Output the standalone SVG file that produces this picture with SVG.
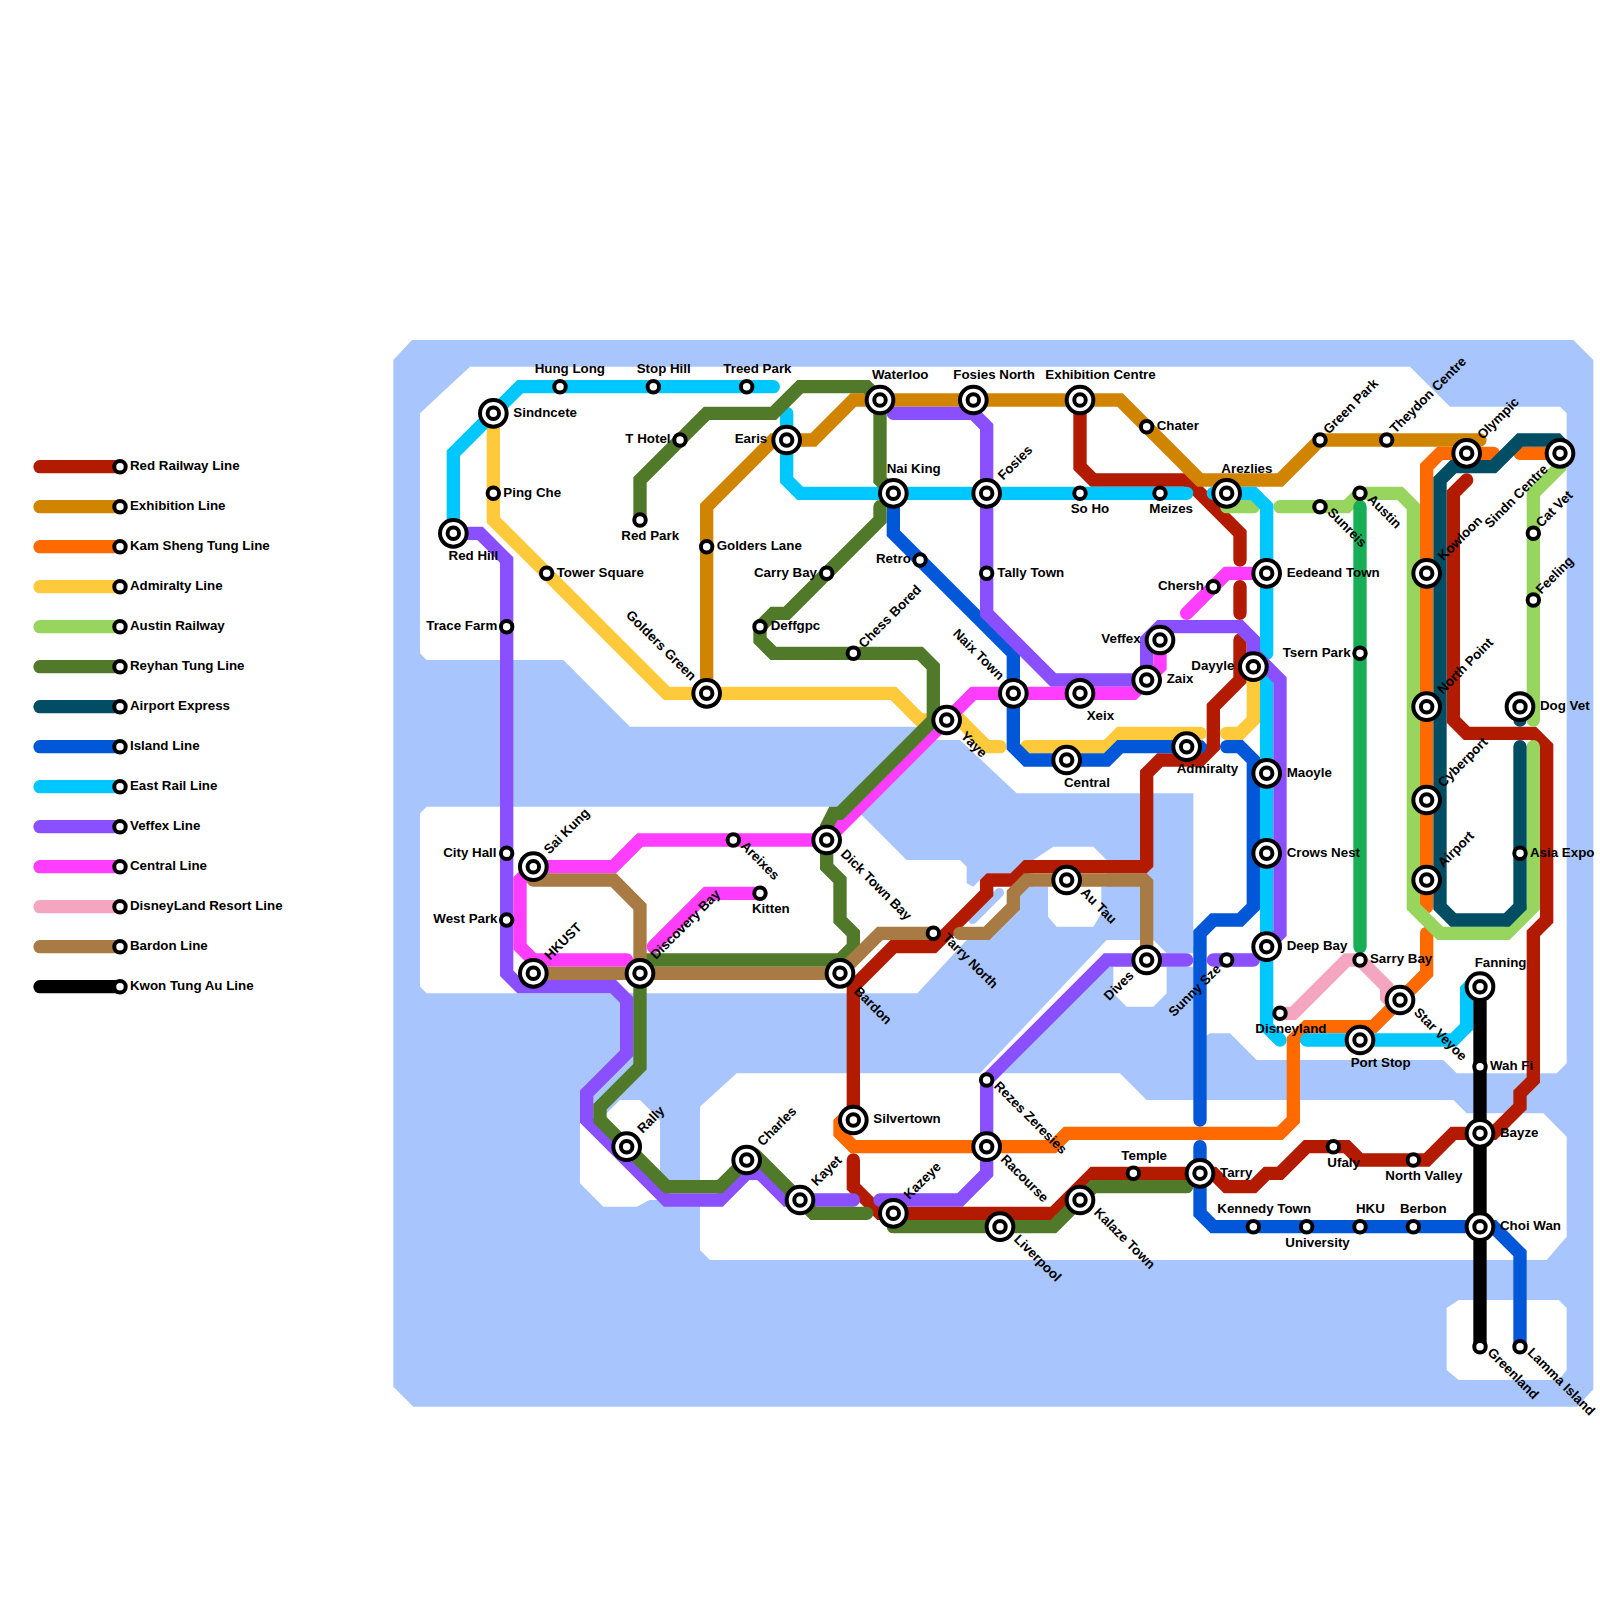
<svg xmlns="http://www.w3.org/2000/svg" width="1600" height="1600" viewBox="0 0 1600 1600">
<style>
.l{fill:none;stroke-width:1;stroke-linecap:round;stroke-linejoin:miter;stroke-miterlimit:1.3}
.red{stroke:#B31B00}.exh{stroke:#D18400}.kam{stroke:#FF6A00}.adm{stroke:#FFC93C}.aus{stroke:#97D55E}.rey{stroke:#507A29}.air{stroke:#004D64}.isl{stroke:#0057D8}.eas{stroke:#00C8FF}.vef{stroke:#8A50FF}.cen{stroke:#FF3DFF}.dis{stroke:#F4A6C0}.bar{stroke:#A87A44}.kwo{stroke:#000}.grn{stroke:#17AE55}
text{font-family:"Liberation Sans",Arial,sans-serif;font-weight:700;font-size:1px;fill:#000}
.e{text-anchor:end}
.o{fill:#fff;stroke:#000;stroke-width:.3}
.land{fill:#fff}
</style>
<defs>
<circle id="s" class="o" r=".43"/>
<g id="b"><circle class="o" r="1"/><circle class="o" r=".43"/></g>
</defs>
<rect width="1600" height="1600" fill="#fff"/>
<g transform="scale(13.33333)">
<g id="water">
<path fill="#A8C6FD" d="M29.5 27L30.9 25.5H118L119.5 27V104.2L118.3 105.5H31L29.5 104Z"/>
<path class="land" d="M35.25 27.5H105.75L108.75 30.5H117L117.5 31V79.75L116.75 80.5H109.25L108.25 79.5H94.25L92.25 77.5H90.75L90 78V71H89.5V59.5H76.25L72 55.5H70L69 54.5H47.25L42.25 49.5H32L31.5 49V31Z"/>
<path class="land" d="M31.5 61L32 60.5H62.5L64.5 61L68 64.5H72L72.5 65V66.25L73 66.5L74 65.5H76V68L74 70.5H72.5L68.8 74.5H32L31.5 74Z"/>
<path class="land" d="M77.5 64.5L79 63.5H82L83 64.5V66.5H82.6V68.5L82 69.5H79.25L78.6 68.75V66.5H77.5Z"/>
<path class="land" d="M73.5 80.5L83 70.5H86.5L87.5 71.5H89.5V72.5H87.5V74.5L86.5 75.5H84.5L83.5 74.5V72.5H82.5L75 80.5Z"/>
<path class="land" d="M55.25 80.5H84L86 82.5H109L110 83.5H115.75L117.5 85.25V92.75L116 94.5H53.25L52.5 93.75V90H48.7L47.75 90.5H45.25L43.5 88.75V84L45.5 83.5L46.5 82.5H48L49.5 84V88.5H52.5V83Z"/>
<path class="land" d="M109.4 97.5H116.9L117.5 98.1V102.75L116.9 103.5H109.4L108.5 102.75V98.1Z"/>
<path d="M72.95 68.95L74.95 66.95" fill="none" stroke="#A8C6FD" stroke-width=".7" stroke-linecap="round"/>
</g>
<g id="connectors">
<path class="l red" d="M110 36L109 37V54L110 55H115L116 56V69L115 70V81L114 82V83L112 85H109L107 87H102L101 86H98L96 88H95L94 89H92L91 88L90 88H82L79 91H67M64 87V89L66 91H67M64 84V74L67 71H70L74 67V66H76L77 65H86V58L87 57H90L91 56V53L93 51V48M93 46V44M93 42V40L89 36H82L81 35V30"/>
<path class="l exh" d="M53 52V38L58 33H61L64 30H84L90 36H96L99 33H111"/>
<path class="l kam" d="M114 34H117M112 34H108L107 35V68M107 70V73L103 77H98L97 78V84L96 85H80L79 86H64L63 85V84H64"/>
<path class="l adm" d="M37 31V39L50 52H67L69 54H72L74 56H75M77 56H83L84 55H90M92 55H93L94 54V50"/>
<path class="l aus" d="M92 38H94M96 38H101L102 37H105L106 38V68L108 70H113L115 68V56M115 54V37L117 35V34"/>
<path class="l grn" d="M102 38V71"/>
<path class="l air" d="M117 34V33H114L112 35H109L108 36V68L109 69H113L114 68V56M114 54V53"/>
<path class="l isl" d="M67 37V40L76 49V56L77 57H83L84 56H90M92 56H93L94 57V68L93 69H91L90 70V84M90 86V91L91 92H112L114 94V101"/>
<path class="l eas" d="M58 29H39L34 34V40M59 31V36L60 37H89M91 37H94L95 38V49M95 51V77L96 78M98 78H109L110 77V74H111"/>
<path class="l vef" d="M34 40H36L38 42V73L39 74H46L47 75V79L44 82V84L50 90H54L56 88H57L59 90H64M66 90H72L74 88V81L83 72H89M91 72H94M95 71L96 70V51L94 49V48L93 47H87L86 48V51H79L74 46V32L73 31H67"/>
<path class="l cen" d="M57 67H53L49 71M40 65H46L48 63H62L73 52H85L87 50V48M40 65L39 66V71L40 72H47M89 46L92 43H95"/>
<path class="l rey" d="M48 39V36L53 31H58L60 29H65L66 30V36L67 37M66 38V39L59 46H58L57 47V48L58 49H69L70 50V54L63 61H62.5L62 62V65L63 66V69L64 70V71L63 72H48V80L45 83V84L50 89H54L56 87M56.6 86.6L60 90L61 91H65M67 92H79L82 89H89"/>
<path class="l dis" d="M96 76H97L101 72H102L104 74V75H105"/>
<path class="l bar" d="M40 73H63L66 70H70M72 70H74L76 68V67L77 66H86V72M40 66H46L48 68V73"/>
<path class="l kwo" d="M111 74V101"/>
</g>
<g id="legend">
<g id="legend-red"><path class="l red" d="M3 35H9"/><use href="#s" x="9" y="35"/><text x="9.75" y="35.22">Red Railway Line</text></g>
<g id="legend-exhibition"><path class="l exh" d="M3 38H9"/><use href="#s" x="9" y="38"/><text x="9.75" y="38.22">Exhibition Line</text></g>
<g id="legend-kam"><path class="l kam" d="M3 41H9"/><use href="#s" x="9" y="41"/><text x="9.75" y="41.22">Kam Sheng Tung Line</text></g>
<g id="legend-admiralty"><path class="l adm" d="M3 44H9"/><use href="#s" x="9" y="44"/><text x="9.75" y="44.22">Admiralty Line</text></g>
<g id="legend-austin"><path class="l aus" d="M3 47H9"/><use href="#s" x="9" y="47"/><text x="9.75" y="47.22">Austin Railway</text></g>
<g id="legend-reyhan"><path class="l rey" d="M3 50H9"/><use href="#s" x="9" y="50"/><text x="9.75" y="50.22">Reyhan Tung Line</text></g>
<g id="legend-airport"><path class="l air" d="M3 53H9"/><use href="#s" x="9" y="53"/><text x="9.75" y="53.22">Airport Express</text></g>
<g id="legend-island"><path class="l isl" d="M3 56H9"/><use href="#s" x="9" y="56"/><text x="9.75" y="56.22">Island Line</text></g>
<g id="legend-east"><path class="l eas" d="M3 59H9"/><use href="#s" x="9" y="59"/><text x="9.75" y="59.22">East Rail Line</text></g>
<g id="legend-veffex"><path class="l vef" d="M3 62H9"/><use href="#s" x="9" y="62"/><text x="9.75" y="62.22">Veffex Line</text></g>
<g id="legend-central"><path class="l cen" d="M3 65H9"/><use href="#s" x="9" y="65"/><text x="9.75" y="65.22">Central Line</text></g>
<g id="legend-disney"><path class="l dis" d="M3 68H9"/><use href="#s" x="9" y="68"/><text x="9.75" y="68.22">DisneyLand Resort Line</text></g>
<g id="legend-bardon"><path class="l bar" d="M3 71H9"/><use href="#s" x="9" y="71"/><text x="9.75" y="71.22">Bardon Line</text></g>
<g id="legend-kwon"><path class="l kwo" d="M3 74H9"/><use href="#s" x="9" y="74"/><text x="9.75" y="74.22">Kwon Tung Au Line</text></g>
</g>
<g id="stations">
<g id="n-hung-long"><use href="#s" x="42" y="29"/><text x="40.1" y="28">Hung Long</text></g>
<g id="n-stop-hill"><use href="#s" x="49" y="29"/><text x="47.75" y="28">Stop Hill</text></g>
<g id="n-treed-park"><use href="#s" x="56" y="29"/><text x="54.25" y="28">Treed Park</text></g>
<g id="n-waterloo"><use href="#b" x="66" y="30"/><text x="65.4" y="28.45">Waterloo</text></g>
<g id="n-fosies-north"><use href="#b" x="73" y="30"/><text x="71.5" y="28.45">Fosies North</text></g>
<g id="n-exhibition-centre"><use href="#b" x="81" y="30"/><text x="78.4" y="28.45">Exhibition Centre</text></g>
<g id="n-earis"><use href="#b" x="59" y="33"/><text x="55.1" y="33.25">Earis</text></g>
<g id="n-t-hotel"><use href="#s" x="51" y="33"/><text x="46.9" y="33.25">T Hotel</text></g>
<g id="n-nai-king"><use href="#b" x="67" y="37"/><text x="66.5" y="35.5">Nai King</text></g>
<g id="n-fosies"><use href="#b" x="74" y="37"/><text x="75.25" y="36.05" transform="rotate(-45 75.25 36.05)">Fosies</text></g>
<g id="n-so-ho"><use href="#s" x="81" y="37"/><text x="80.3" y="38.5">So Ho</text></g>
<g id="n-red-park"><use href="#s" x="48" y="39"/><text x="46.6" y="40.5">Red Park</text></g>
<g id="n-golders-lane"><use href="#s" x="53" y="41"/><text x="53.75" y="41.25">Golders Lane</text></g>
<g id="n-tower-square"><use href="#s" x="41" y="43"/><text x="41.75" y="43.25">Tower Square</text></g>
<g id="n-ping-che"><use href="#s" x="37" y="37"/><text x="37.75" y="37.25">Ping Che</text></g>
<g id="n-sindncete"><use href="#b" x="37" y="31"/><text x="38.5" y="31.25">Sindncete</text></g>
<g id="n-red-hill"><use href="#b" x="34" y="40"/><text x="33.64" y="42">Red Hill</text></g>
<g id="n-trace-farm"><use href="#s" x="38" y="47"/><text x="31.97" y="47.25">Trace Farm</text></g>
<g id="n-city-hall"><use href="#s" x="38" y="64"/><text x="33.24" y="64.25">City Hall</text></g>
<g id="n-west-park"><use href="#s" x="38" y="69"/><text x="32.5" y="69.25">West Park</text></g>
<g id="n-retro"><use href="#s" x="69" y="42"/><text x="65.7" y="42.25">Retro</text></g>
<g id="n-tally-town"><use href="#s" x="74" y="43"/><text x="74.8" y="43.25">Tally Town</text></g>
<g id="n-carry-bay"><use href="#s" x="62" y="43"/><text x="56.55" y="43.25">Carry Bay</text></g>
<g id="n-deffgpc"><use href="#s" x="57" y="47"/><text x="57.8" y="47.25">Deffgpc</text></g>
<g id="n-chess-bored"><use href="#s" x="64" y="49"/><text x="64.8" y="48.65" transform="rotate(-45 64.8 48.65)">Chess Bored</text></g>
<g id="n-golders-green"><use href="#b" x="53" y="52"/><text class="e" x="51.8" y="51.1" transform="rotate(45 51.8 51.1)">Golders Green</text></g>
<g id="n-naix-town"><use href="#b" x="76" y="52"/><text class="e" x="74.9" y="51.05" transform="rotate(45 74.9 51.05)">Naix Town</text></g>
<g id="n-xeix"><use href="#b" x="81" y="52"/><text x="81.5" y="54">Xeix</text></g>
<g id="n-yaye"><use href="#b" x="71" y="54"/><text x="72" y="55.25" transform="rotate(45 72 55.25)">Yaye</text></g>
<g id="n-central"><use href="#b" x="80" y="57"/><text x="79.8" y="59">Central</text></g>
<g id="n-admiralty"><use href="#b" x="89" y="56"/><text x="88.25" y="58">Admiralty</text></g>
<g id="n-chater"><use href="#s" x="86" y="32"/><text x="86.75" y="32.25">Chater</text></g>
<g id="n-green-park"><use href="#s" x="99" y="33"/><text x="99.65" y="32.6" transform="rotate(-45 99.65 32.6)">Green Park</text></g>
<g id="n-theydon-centre"><use href="#s" x="104" y="33"/><text x="104.65" y="32.55" transform="rotate(-45 104.65 32.55)">Theydon Centre</text></g>
<g id="n-olympic"><use href="#b" x="110" y="34"/><text x="111.2" y="33" transform="rotate(-45 111.2 33)">Olympic</text></g>
<g id="n-sindn-centre"><use href="#b" x="117" y="34"/><text x="111.75" y="39.65" transform="rotate(-45 111.75 39.65)">Sindn Centre</text></g>
<g id="n-arezlies"><use href="#b" x="92" y="37"/><text x="91.6" y="35.5">Arezlies</text></g>
<g id="n-meizes"><use href="#s" x="87" y="37"/><text x="86.2" y="38.5">Meizes</text></g>
<g id="n-austin"><use href="#s" x="102" y="37"/><text x="102.5" y="37.5" transform="rotate(45 102.5 37.5)">Austin</text></g>
<g id="n-sunreis"><use href="#s" x="99" y="38"/><text x="99.5" y="38.5" transform="rotate(45 99.5 38.5)">Sunreis</text></g>
<g id="n-cat-vet"><use href="#s" x="115" y="40"/><text x="115.6" y="39.6" transform="rotate(-45 115.6 39.6)">Cat Vet</text></g>
<g id="n-feeling"><use href="#s" x="115" y="45"/><text x="115.6" y="44.6" transform="rotate(-45 115.6 44.6)">Feeling</text></g>
<g id="n-eedeand-town"><use href="#b" x="95" y="43"/><text x="96.5" y="43.25">Eedeand Town</text></g>
<g id="n-kowloon"><use href="#b" x="107" y="43"/><text x="108.25" y="42.1" transform="rotate(-45 108.25 42.1)">Kowloon</text></g>
<g id="n-chersh"><use href="#s" x="91" y="44"/><text x="86.85" y="44.25">Chersh</text></g>
<g id="n-veffex"><use href="#b" x="87" y="48"/><text x="82.6" y="48.25">Veffex</text></g>
<g id="n-tsern-park"><use href="#s" x="102" y="49"/><text x="96.2" y="49.25">Tsern Park</text></g>
<g id="n-dayyle"><use href="#b" x="94" y="50"/><text x="89.35" y="50.25">Dayyle</text></g>
<g id="n-zaix"><use href="#b" x="86" y="51"/><text x="87.5" y="51.25">Zaix</text></g>
<g id="n-north-point"><use href="#b" x="107" y="53"/><text x="108.2" y="52.1" transform="rotate(-45 108.2 52.1)">North Point</text></g>
<g id="n-dog-vet"><use href="#b" x="114" y="53"/><text x="115.5" y="53.25">Dog Vet</text></g>
<g id="n-maoyle"><use href="#b" x="95" y="58"/><text x="96.5" y="58.25">Maoyle</text></g>
<g id="n-cyberport"><use href="#b" x="107" y="60"/><text x="108.25" y="59.1" transform="rotate(-45 108.25 59.1)">Cyberport</text></g>
<g id="n-crows-nest"><use href="#b" x="95" y="64"/><text x="96.5" y="64.25">Crows Nest</text></g>
<g id="n-asia-expo"><use href="#s" x="114" y="64"/><text x="114.75" y="64.25">Asia Expo</text></g>
<g id="n-sai-kung"><use href="#b" x="40" y="65"/><text x="41.2" y="64.1" transform="rotate(-45 41.2 64.1)">Sai Kung</text></g>
<g id="n-hkust"><use href="#b" x="40" y="73"/><text x="41.25" y="72.05" transform="rotate(-45 41.25 72.05)">HKUST</text></g>
<g id="n-discovery-bay"><use href="#b" x="48" y="73"/><text x="49.2" y="72" transform="rotate(-45 49.2 72)">Discovery Bay</text></g>
<g id="n-areixes"><use href="#s" x="55" y="63"/><text x="55.5" y="63.5" transform="rotate(45 55.5 63.5)">Areixes</text></g>
<g id="n-dick-town-bay"><use href="#b" x="62" y="63"/><text x="63" y="64.1" transform="rotate(45 63 64.1)">Dick Town Bay</text></g>
<g id="n-kitten"><use href="#s" x="57" y="67"/><text x="56.4" y="68.5">Kitten</text></g>
<g id="n-bardon"><use href="#b" x="63" y="73"/><text x="64" y="74.4" transform="rotate(45 64 74.4)">Bardon</text></g>
<g id="n-tarry-north"><use href="#s" x="70" y="70"/><text x="70.65" y="70.4" transform="rotate(45 70.65 70.4)">Tarry North</text></g>
<g id="n-au-tau"><use href="#b" x="80" y="66"/><text x="81" y="67" transform="rotate(45 81 67)">Au Tau</text></g>
<g id="n-rally"><use href="#b" x="47" y="86"/><text x="48.2" y="85.05" transform="rotate(-45 48.2 85.05)">Rally</text></g>
<g id="n-charles"><use href="#b" x="56" y="87"/><text x="57.2" y="86" transform="rotate(-45 57.2 86)">Charles</text></g>
<g id="n-silvertown"><use href="#b" x="64" y="84"/><text x="65.5" y="84.25">Silvertown</text></g>
<g id="n-rezes-zeresies"><use href="#s" x="74" y="81"/><text x="74.5" y="81.5" transform="rotate(45 74.5 81.5)">Rezes Zeresies</text></g>
<g id="n-racourse"><use href="#b" x="74" y="86"/><text x="75" y="87" transform="rotate(45 75 87)">Racourse</text></g>
<g id="n-kayet"><use href="#b" x="60" y="90"/><text x="61.25" y="89" transform="rotate(-45 61.25 89)">Kayet</text></g>
<g id="n-kazeye"><use href="#b" x="67" y="91"/><text x="68.2" y="90" transform="rotate(-45 68.2 90)">Kazeye</text></g>
<g id="n-liverpool"><use href="#b" x="75" y="92"/><text x="76" y="93" transform="rotate(45 76 93)">Liverpool</text></g>
<g id="n-kalaze-town"><use href="#b" x="81" y="90"/><text x="82" y="91" transform="rotate(45 82 91)">Kalaze Town</text></g>
<g id="n-deep-bay"><use href="#b" x="95" y="71"/><text x="96.5" y="71.25">Deep Bay</text></g>
<g id="n-dives"><use href="#b" x="86" y="72"/><text x="83.2" y="75.1" transform="rotate(-45 83.2 75.1)">Dives</text></g>
<g id="n-sunny-sze"><use href="#s" x="92" y="72"/><text x="88.05" y="76.3" transform="rotate(-45 88.05 76.3)">Sunny Sze</text></g>
<g id="n-sarry-bay"><use href="#s" x="102" y="72"/><text x="102.75" y="72.25">Sarry Bay</text></g>
<g id="n-star-veyoe"><use href="#b" x="105" y="75"/><text x="106" y="76" transform="rotate(45 106 76)">Star Veyoe</text></g>
<g id="n-airport"><use href="#b" x="107" y="66"/><text x="108.25" y="65.1" transform="rotate(-45 108.25 65.1)">Airport</text></g>
<g id="n-fanning"><use href="#b" x="111" y="74"/><text x="110.6" y="72.5">Fanning</text></g>
<g id="n-disneyland"><use href="#s" x="96" y="76"/><text x="94.15" y="77.5">Disneyland</text></g>
<g id="n-port-stop"><use href="#b" x="102" y="78"/><text x="101.3" y="80">Port Stop</text></g>
<g id="n-wah-fi"><use href="#s" x="111" y="80"/><text x="111.75" y="80.25">Wah Fi</text></g>
<g id="n-bayze"><use href="#b" x="111" y="85"/><text x="112.5" y="85.25">Bayze</text></g>
<g id="n-ufaly"><use href="#s" x="100" y="86"/><text x="99.55" y="87.5">Ufaly</text></g>
<g id="n-north-valley"><use href="#s" x="106" y="87"/><text x="103.9" y="88.5">North Valley</text></g>
<g id="n-temple"><use href="#s" x="85" y="88"/><text x="84.1" y="87">Temple</text></g>
<g id="n-tarry"><use href="#b" x="90" y="88"/><text x="91.5" y="88.25">Tarry</text></g>
<g id="n-kennedy-town"><use href="#s" x="94" y="92"/><text x="91.3" y="91">Kennedy Town</text></g>
<g id="n-university"><use href="#s" x="98" y="92"/><text x="96.4" y="93.5">University</text></g>
<g id="n-hku"><use href="#s" x="102" y="92"/><text x="101.7" y="91">HKU</text></g>
<g id="n-berbon"><use href="#s" x="106" y="92"/><text x="105" y="91">Berbon</text></g>
<g id="n-choi-wan"><use href="#b" x="111" y="92"/><text x="112.5" y="92.25">Choi Wan</text></g>
<g id="n-greenland"><use href="#s" x="111" y="101"/><text x="111.5" y="101.5" transform="rotate(45 111.5 101.5)">Greenland</text></g>
<g id="n-lamma-island"><use href="#s" x="114" y="101"/><text x="114.5" y="101.5" transform="rotate(45 114.5 101.5)">Lamma Island</text></g>
</g>
</g>
</svg>
